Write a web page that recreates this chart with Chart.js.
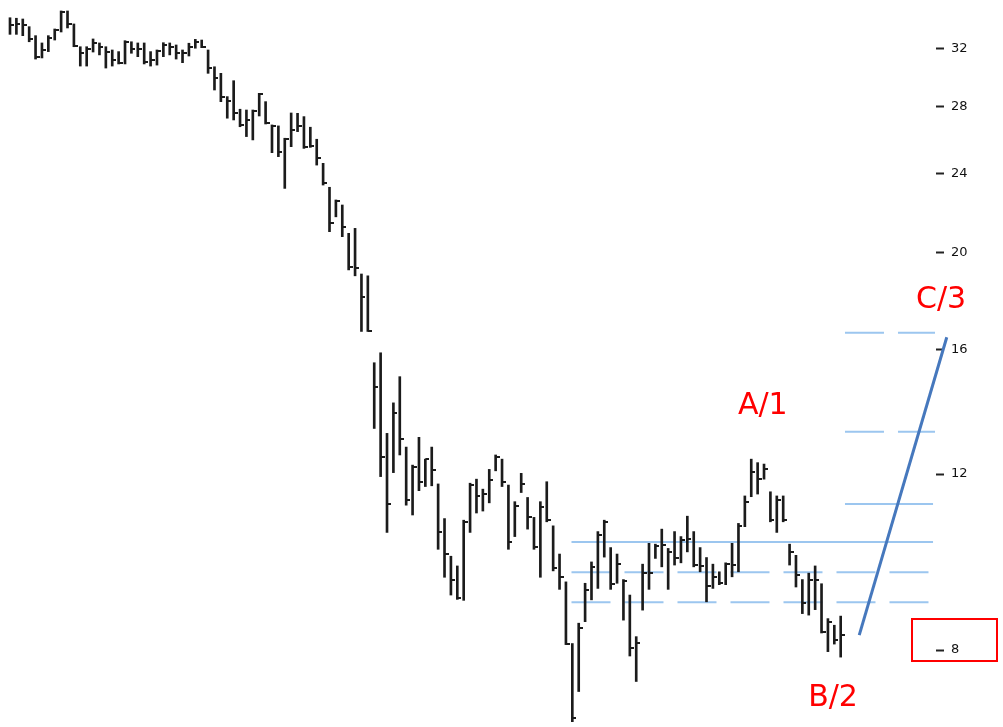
<!DOCTYPE html>
<html>
<head>
<meta charset="utf-8">
<script src="https://cdn.jsdelivr.net/npm/chart.js@4.4.1/dist/chart.umd.min.js"></script>
<style>
html,body{margin:0;padding:0;background:#ffffff;overflow:hidden;}
#wrap{width:1003px;height:727px;position:relative;}
</style>
</head>
<body>
<div id="wrap"><canvas id="c"></canvas></div>
<script>
// ---- data (HLC bars, log price scale) ----
const highs = [34.35,34.31,34.25,33.65,32.96,32.41,32.96,33.47,34.89,34.89,33.86,32.13,32.13,32.71,32.41,32.13,31.89,31.77,32.58,32.50,
32.41,32.41,31.77,31.89,32.43,32.41,32.26,31.89,32.39,32.68,32.63,31.89,30.68,30.22,28.64,29.71,27.82,27.77,27.77,28.86,
28.31,26.83,26.77,26.02,27.58,27.56,27.35,26.69,25.96,24.56,23.24,22.57,22.31,20.90,21.14,19.03,18.95,15.51,15.87,13.18,
14.14,15.02,12.77,12.25,13.06,12.42,12.77,11.73,10.83,9.93,9.71,10.79,11.75,11.86,11.59,12.13,12.54,12.42,11.70,11.26,
12.02,11.37,10.86,11.26,11.79,10.65,9.98,9.36,8.12,8.51,9.33,9.80,10.51,10.79,10.13,9.98,9.41,9.08,8.25,9.75,
10.23,10.21,10.57,10.11,10.51,10.39,10.89,10.51,10.13,9.90,9.75,9.58,9.78,10.23,10.71,11.41,12.42,12.32,12.28,11.52,
11.41,11.41,10.21,9.95,9.41,9.55,9.71,9.32,8.60,8.47,8.65];
const lows = [33.06,33.06,32.96,32.50,31.23,31.31,31.77,32.63,33.24,33.55,32.13,30.73,30.73,31.74,31.53,30.59,30.73,30.88,30.88,31.65,
31.40,30.88,30.73,30.80,31.40,31.53,31.23,30.97,31.45,32.02,32.06,30.22,29.08,28.31,27.25,27.14,26.72,26.12,25.92,27.39,
26.89,25.17,24.94,23.18,25.52,26.42,25.42,25.48,24.46,23.36,20.98,21.71,20.74,19.21,18.95,16.67,16.67,13.33,11.93,10.49,
12.04,12.54,11.17,10.92,11.55,11.66,11.68,10.09,9.46,9.08,8.99,8.97,10.49,10.97,11.02,11.23,12.09,11.66,10.09,10.39,
11.50,10.57,10.09,9.46,10.75,9.60,9.20,8.10,6.78,7.27,8.54,8.98,9.22,9.91,9.20,9.33,8.57,7.89,7.44,8.77,
9.20,9.88,9.69,9.20,9.73,9.78,10.03,9.69,9.58,8.94,9.22,9.30,9.30,9.47,9.58,10.63,11.39,11.46,11.86,10.75,
10.49,10.75,9.73,9.25,8.70,8.67,8.78,8.32,7.97,8.11,7.87];
const closes = [33.78,33.83,33.78,32.71,31.40,31.89,32.76,33.39,34.81,33.86,32.19,31.67,31.96,32.41,32.13,31.77,31.16,30.95,32.48,31.96,
31.96,31.04,31.16,31.82,32.26,32.13,31.67,31.67,32.13,32.45,32.13,30.57,29.90,28.64,28.36,27.56,26.83,27.14,27.71,28.81,
26.94,26.77,25.22,25.96,26.52,26.77,25.52,25.56,24.85,23.45,21.39,22.53,21.22,19.36,19.29,18.06,16.70,14.66,12.48,11.20,
13.80,13.00,11.30,12.19,11.79,12.42,12.11,10.49,9.98,9.40,9.02,10.75,11.70,11.41,11.46,11.84,12.48,11.77,10.27,11.14,
11.73,10.87,10.14,11.12,10.79,9.66,9.46,8.12,6.84,8.41,9.19,9.69,10.43,10.75,9.32,9.75,9.38,8.03,8.13,9.55,
9.56,10.17,10.19,10.03,9.88,10.31,10.33,9.73,9.71,9.28,9.47,9.33,9.75,9.73,10.65,11.26,12.06,11.86,12.13,10.79,
11.30,10.79,10.03,9.51,8.92,9.40,9.40,8.33,8.54,8.19,8.28];
const barIndex = highs.map((_, i) => i);

const tickValues = [8, 12, 16, 20, 24, 28, 32];

// horizontal price levels (value, start bar, end bar, dashed?)
const levelValues = [16.62, 13.23, 11.20, 10.26, 9.57, 8.93];
const levelStart  = [130.67, 130.67, 130.67, 87.87, 87.87, 87.87];
const levelEnd    = [144.76, 144.76, 144.45, 144.45, 143.74, 143.74];
const levelDashed = [true, true, false, false, true, true];

// projected wave line (bar position, price)
const trendX = [132.9, 146.6];
const trendY = [8.28, 16.45];

// wave labels (bar position, price)
const waveText = ['A/1', 'B/2', 'C/3'];
const waveX = [117.8, 128.8, 145.7];
const waveY = [14.04, 7.16, 17.92];
const highlightTick = 8;

// ---- layout calibration of the axes (page geometry) ----
const FIRST_BAR_PX = 10, BAR_STEP_PX = 6.39;   // horizontal spacing of bars
const REF_PX = 650, REF_PRICE = 8, PX_PER_LN = 433.9; // log price scale

// ---- build ----
function tickImage() {
  const c = document.createElement('canvas');
  c.width = 8; c.height = 2;
  const g = c.getContext('2d');
  g.fillStyle = '#1b1b1b';
  g.fillRect(4, 0, 4, 2);
  return c;
}
const closeTick = tickImage();

const datasets = [];
datasets.push({
  type: 'bar',
  data: barIndex.map(i => ({x: i, y: [lows[i], highs[i]]})),
  backgroundColor: '#1b1b1b',
  borderWidth: 0,
  barThickness: 2,
  order: 1
});
datasets.push({
  type: 'scatter',
  data: barIndex.map(i => ({x: i, y: closes[i]})),
  pointStyle: closeTick,
  pointRadius: 3,
  order: 0
});
levelValues.forEach((v, k) => {
  datasets.push({
    type: 'line',
    data: [{x: levelStart[k], y: v}, {x: levelEnd[k], y: v}],
    borderColor: '#9cc6ef',
    borderWidth: 2,
    borderDash: levelDashed[k] ? [39, 14] : [],
    pointRadius: 0,
    fill: false,
    order: 3
  });
});
datasets.push({
  type: 'line',
  data: trendX.map((x, k) => ({x: x, y: trendY[k]})),
  borderColor: '#4678bd',
  borderWidth: 3,
  pointRadius: 0,
  fill: false,
  clip: false,
  order: 2
});

const labelPlugin = {
  id: 'waveLabels',
  afterDatasetsDraw(chart) {
    const {ctx, scales: {x, y}} = chart;
    ctx.save();
    ctx.fillStyle = '#ff0000';
    ctx.font = '30px "DejaVu Sans"';
    ctx.textAlign = 'center';
    ctx.textBaseline = 'middle';
    waveText.forEach((t, i) => {
      ctx.fillText(t, x.getPixelForValue(waveX[i]), y.getPixelForValue(waveY[i]));
    });
    const py = y.getPixelForValue(highlightTick);
    ctx.strokeStyle = '#ff0000';
    ctx.lineWidth = 2;
    ctx.strokeRect(y.left - 24, py - 31, 85, 42);
    ctx.restore();
  }
};

const chart = new Chart(document.getElementById('c'), {
  data: {datasets},
  plugins: [labelPlugin],
  options: {
    responsive: true,
    maintainAspectRatio: false,
    animation: false,
    layout: {padding: 0},
    plugins: {legend: {display: false}, tooltip: {enabled: false}},
    scales: {
      x: {
        type: 'linear',
        min: -1.565,
        max: 144.91,
        offset: false,
        display: false
      },
      y: {
        type: 'logarithmic',
        position: 'right',
        min: 6.775,
        max: 35.53,
        bounds: 'data',
        afterBuildTicks(scale) { scale.ticks = tickValues.map(v => ({value: v})); },
        afterFit(scale) { scale.width = 67; scale.paddingTop = 0; scale.paddingBottom = 0; },
        border: {display: false},
        grid: {display: true, drawOnChartArea: false, drawTicks: true, tickLength: 8, tickWidth: 2, tickColor: '#222222'},
        ticks: {
          autoSkip: false,
          padding: 7,
          color: '#111111',
          font: {family: 'DejaVu Sans', size: 13},
          callback: v => String(v)
        }
      }
    }
  }
});

// match axis ranges to the final plot area
const area = chart.chartArea;
chart.options.scales.x.min = (area.left - FIRST_BAR_PX) / BAR_STEP_PX;
chart.options.scales.x.max = (area.right - FIRST_BAR_PX) / BAR_STEP_PX;
chart.options.scales.y.max = REF_PRICE * Math.exp((REF_PX - area.top) / PX_PER_LN);
chart.options.scales.y.min = REF_PRICE * Math.exp((REF_PX - area.bottom) / PX_PER_LN);
chart.update('none');
</script>
</body>
</html>
